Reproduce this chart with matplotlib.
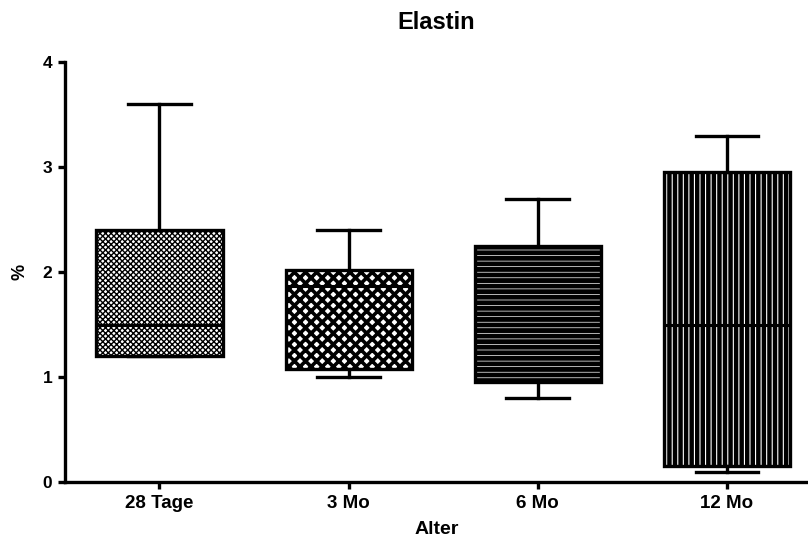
import matplotlib.pyplot as plt

groups = ["28 Tage", "3 Mo", "6 Mo", "12 Mo"]
whisker_low = [1.2, 1.0, 0.8, 0.1]
q1 = [1.2, 1.08, 0.95, 0.15]
median = [1.5, 1.87, 1.6, 1.5]
q3 = [2.4, 2.02, 2.25, 2.95]
whisker_high = [3.6, 2.4, 2.7, 3.3]
hatches = ["xxxxxx", "xxx", "---", "|||"]
hatch_lw = [1.0, 2.6, 3.5, 3.2]

font = ["Liberation Sans", "DejaVu Sans"]

fig = plt.figure(figsize=(8.08, 5.46), dpi=100)
ax = fig.add_axes([0.0804, 0.117, 0.9196, 0.769])

for i in range(len(groups)):
    plt.rcParams["hatch.linewidth"] = hatch_lw[i]
    stats = [{
        "whislo": whisker_low[i], "q1": q1[i], "med": median[i],
        "q3": q3[i], "whishi": whisker_high[i], "label": groups[i],
    }]
    res = ax.bxp(stats, positions=[i + 1], widths=0.667, capwidths=0.33,
                 showfliers=False, patch_artist=True,
                 boxprops=dict(facecolor="white", edgecolor="black", linewidth=2.4),
                 medianprops=dict(color="black", linewidth=2.2),
                 whiskerprops=dict(color="black", linewidth=2.4),
                 capprops=dict(color="black", linewidth=2.4))
    for b in res["boxes"]:
        b.set_hatch(hatches[i])
        if hasattr(b, "set_hatch_linewidth"):
            b.set_hatch_linewidth(hatch_lw[i])

ax.set_xlim(0.5, 4.43)
ax.set_ylim(0, 4)
ax.set_yticks([0, 1, 2, 3, 4])
ax.set_xticks([1, 2, 3, 4])
ax.set_xticklabels(groups, fontsize=13.5, fontweight="bold", family=font)
for lab in ax.get_yticklabels():
    lab.set_fontsize(12.5)
    lab.set_fontweight("bold")
    lab.set_family(font)

ax.spines["top"].set_visible(False)
ax.spines["right"].set_visible(False)
ax.spines["left"].set_linewidth(2.4)
ax.spines["bottom"].set_linewidth(2.4)
ax.tick_params(width=2.4, length=5, pad=4)

ax.set_xlabel("Alter", fontsize=14, fontweight="bold", family=font, labelpad=7)
ax.set_ylabel("%", fontsize=13, fontweight="bold", family=font, labelpad=10)
ax.set_title("Elastin", fontsize=17, fontweight="bold", family=font, pad=24)

fig.savefig("out.png", dpi=100)
